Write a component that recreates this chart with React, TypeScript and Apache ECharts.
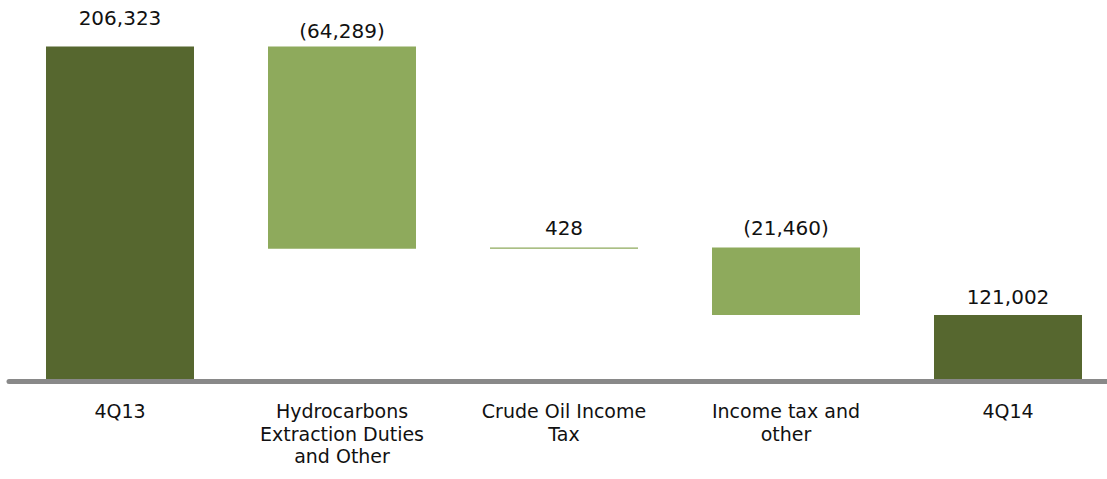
import React, { useEffect, useRef } from "react";
import * as echarts from "echarts";

const categories = [
  "4Q13",
  "Hydrocarbons\nExtraction Duties\nand Other",
  "Crude Oil Income\nTax",
  "Income tax and\nother",
  "4Q14",
];
// signed changes; first and last are totals
const values = [206323, -64289, 428, -21460, 121002];
const isTotal = [true, false, false, false, true];
const valueLabels = ["206,323", "(64,289)", "428", "(21,460)", "121,002"];
const labelGaps = [19, 6, 9, 9, 8];

const DARK = "#56672f";
const LIGHT = "#8eaa5c";
const FONT = "'DejaVu Sans'";

export default function App() {
  const ref = useRef<HTMLDivElement>(null);
  useEffect(() => {
    if (!ref.current) return;
    const chart = echarts.init(ref.current, undefined, { renderer: "svg" });
    const base: number[] = [];
    const shown: number[] = [];
    let running = 0;
    values.forEach((v, i) => {
      if (isTotal[i]) {
        base.push(0);
        shown.push(v);
        running = v;
      } else if (v < 0) {
        running += v;
        base.push(running);
        shown.push(-v);
      } else {
        base.push(running);
        shown.push(v);
        running += v;
      }
    });
    chart.setOption({
      animation: false,
      textStyle: { fontFamily: FONT },
      grid: {
        left: 9,
        top: 35,
        width: 1110,
        height: 346,
        outerBoundsMode: "none",
        containLabel: false,
      },
      xAxis: {
        type: "category",
        data: categories,
        z: 5,
        axisLine: { show: true, lineStyle: { color: "#898989", width: 5 } },
        axisTick: { show: false },
        axisLabel: {
          color: "#111",
          fontSize: 19,
          lineHeight: 22.5,
          margin: 19,
          fontFamily: FONT,
          interval: 0,
        },
      },
      yAxis: {
        type: "value",
        min: 100000,
        max: 210000,
        show: false,
        splitLine: { show: false },
      },
      series: [
        {
          type: "bar",
          stack: "w",
          data: base,
          barWidth: 148,
          itemStyle: { color: "transparent" },
          silent: true,
        },
        {
          type: "bar",
          stack: "w",
          barWidth: 148,
          data: shown.map((v, i) => ({
            value: v,
            itemStyle: { color: isTotal[i] ? DARK : LIGHT },
            label: { distance: labelGaps[i] },
          })),
          label: {
            show: true,
            position: "top",
            fontSize: 20,
            color: "#111",
            fontFamily: FONT,
            formatter: (p: any) => valueLabels[p.dataIndex],
          },
        },
      ],
    });
    return () => chart.dispose();
  }, []);
  return (
    <div
      ref={ref}
      style={{ position: "absolute", left: 0, top: 0, width: 1107, height: 479 }}
    />
  );
}
